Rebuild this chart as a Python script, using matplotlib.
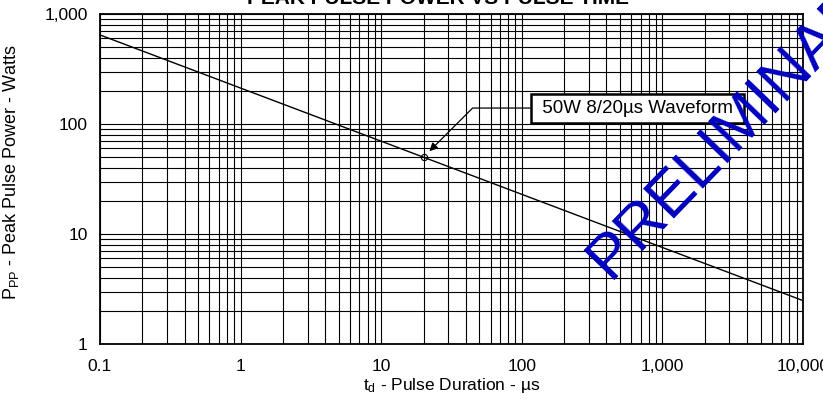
import numpy as np
import matplotlib
matplotlib.use("Agg")
from matplotlib import pyplot as plt
from matplotlib.ticker import LogLocator, NullFormatter, FixedLocator

matplotlib.rcParams['font.family'] = 'Liberation Sans'
matplotlib.rcParams['mathtext.fontset'] = 'custom'
matplotlib.rcParams['mathtext.rm'] = 'Liberation Sans'
matplotlib.rcParams['mathtext.it'] = 'Liberation Sans:italic'

# curve
pulse_us = [0.1, 10000]
power_w = [645, 2.48]

# the 8/20us waveform point
wave_us = [20]
wave_w = [50]

x_ticks = [0.1, 1, 10, 100, 1000, 10000]
x_labels = ["0.1", "1", "10", "100", "1,000", "10,000"]
y_ticks = [1, 10, 100, 1000]
y_labels = ["1", "10", "100", "1,000"]

fig = plt.figure(figsize=(8.23, 4.01), dpi=100)
ax = fig.add_axes([100/823, 57/401, 703/823, 330/401])

ax.set_xscale("log")
ax.set_yscale("log")
ax.set_xlim(0.1, 10000)
ax.set_ylim(1, 1000)

ax.xaxis.set_major_locator(FixedLocator(x_ticks))
ax.set_xticklabels(x_labels)
ax.yaxis.set_major_locator(FixedLocator(y_ticks))
ax.set_yticklabels(y_labels)
for a in (ax.xaxis, ax.yaxis):
	a.set_minor_locator(LogLocator(base=10, subs=np.arange(2, 10), numticks=100))
	a.set_minor_formatter(NullFormatter())

ax.tick_params(which="both", length=0, labelsize=12.5)
ax.tick_params(axis="x", pad=11)
ax.tick_params(axis="y", pad=9)
ax.grid(which="both", color="black", lw=0.8)
ax.set_axisbelow(True)
for s in ax.spines.values():
	s.set_linewidth(1.3)

ax.plot(pulse_us, power_w, color="black", lw=1)
ax.plot(wave_us, wave_w, "o", ms=4.5, mfc="none", mec="black", mew=0.8)

ax.annotate(" 50W 8/20µs Waveform ", xy=(wave_us[0], wave_w[0]),
	xytext=(0.765, 0.715), textcoords="axes fraction",
	ha="center", va="center", fontsize=13.5,
	bbox=dict(boxstyle="square,pad=0.32", fc="white", ec="black", lw=1.8),
	arrowprops=dict(arrowstyle="-|>", color="black", lw=0.9, mutation_scale=12,
		connectionstyle="angle,angleA=0,angleB=45,rad=0", shrinkA=0, shrinkB=6))

ax.set_xlabel(r"$\mathrm{t}_{\mathrm{d}}$ - Pulse Duration - µs", fontsize=12.5, labelpad=1)
ax.set_ylabel(r"$\mathrm{P}_{\mathrm{PP}}$ - Peak Pulse Power - Watts", fontsize=13, va="center")
ax.yaxis.set_label_coords(-0.1266, 0.52)

fig.text(0.5316, 0.989, "PEAK PULSE POWER VS PULSE TIME", fontsize=15,
	fontweight="bold", ha="center", va="baseline")

# watermark, runs off the right edge like the original
fig.text(0.7407, 0.3007, "PRELIMINARY", rotation=46, color="#0000C0", fontsize=45,
	ha="left", va="baseline", rotation_mode="anchor")

plt.savefig("out.png", dpi=100)
